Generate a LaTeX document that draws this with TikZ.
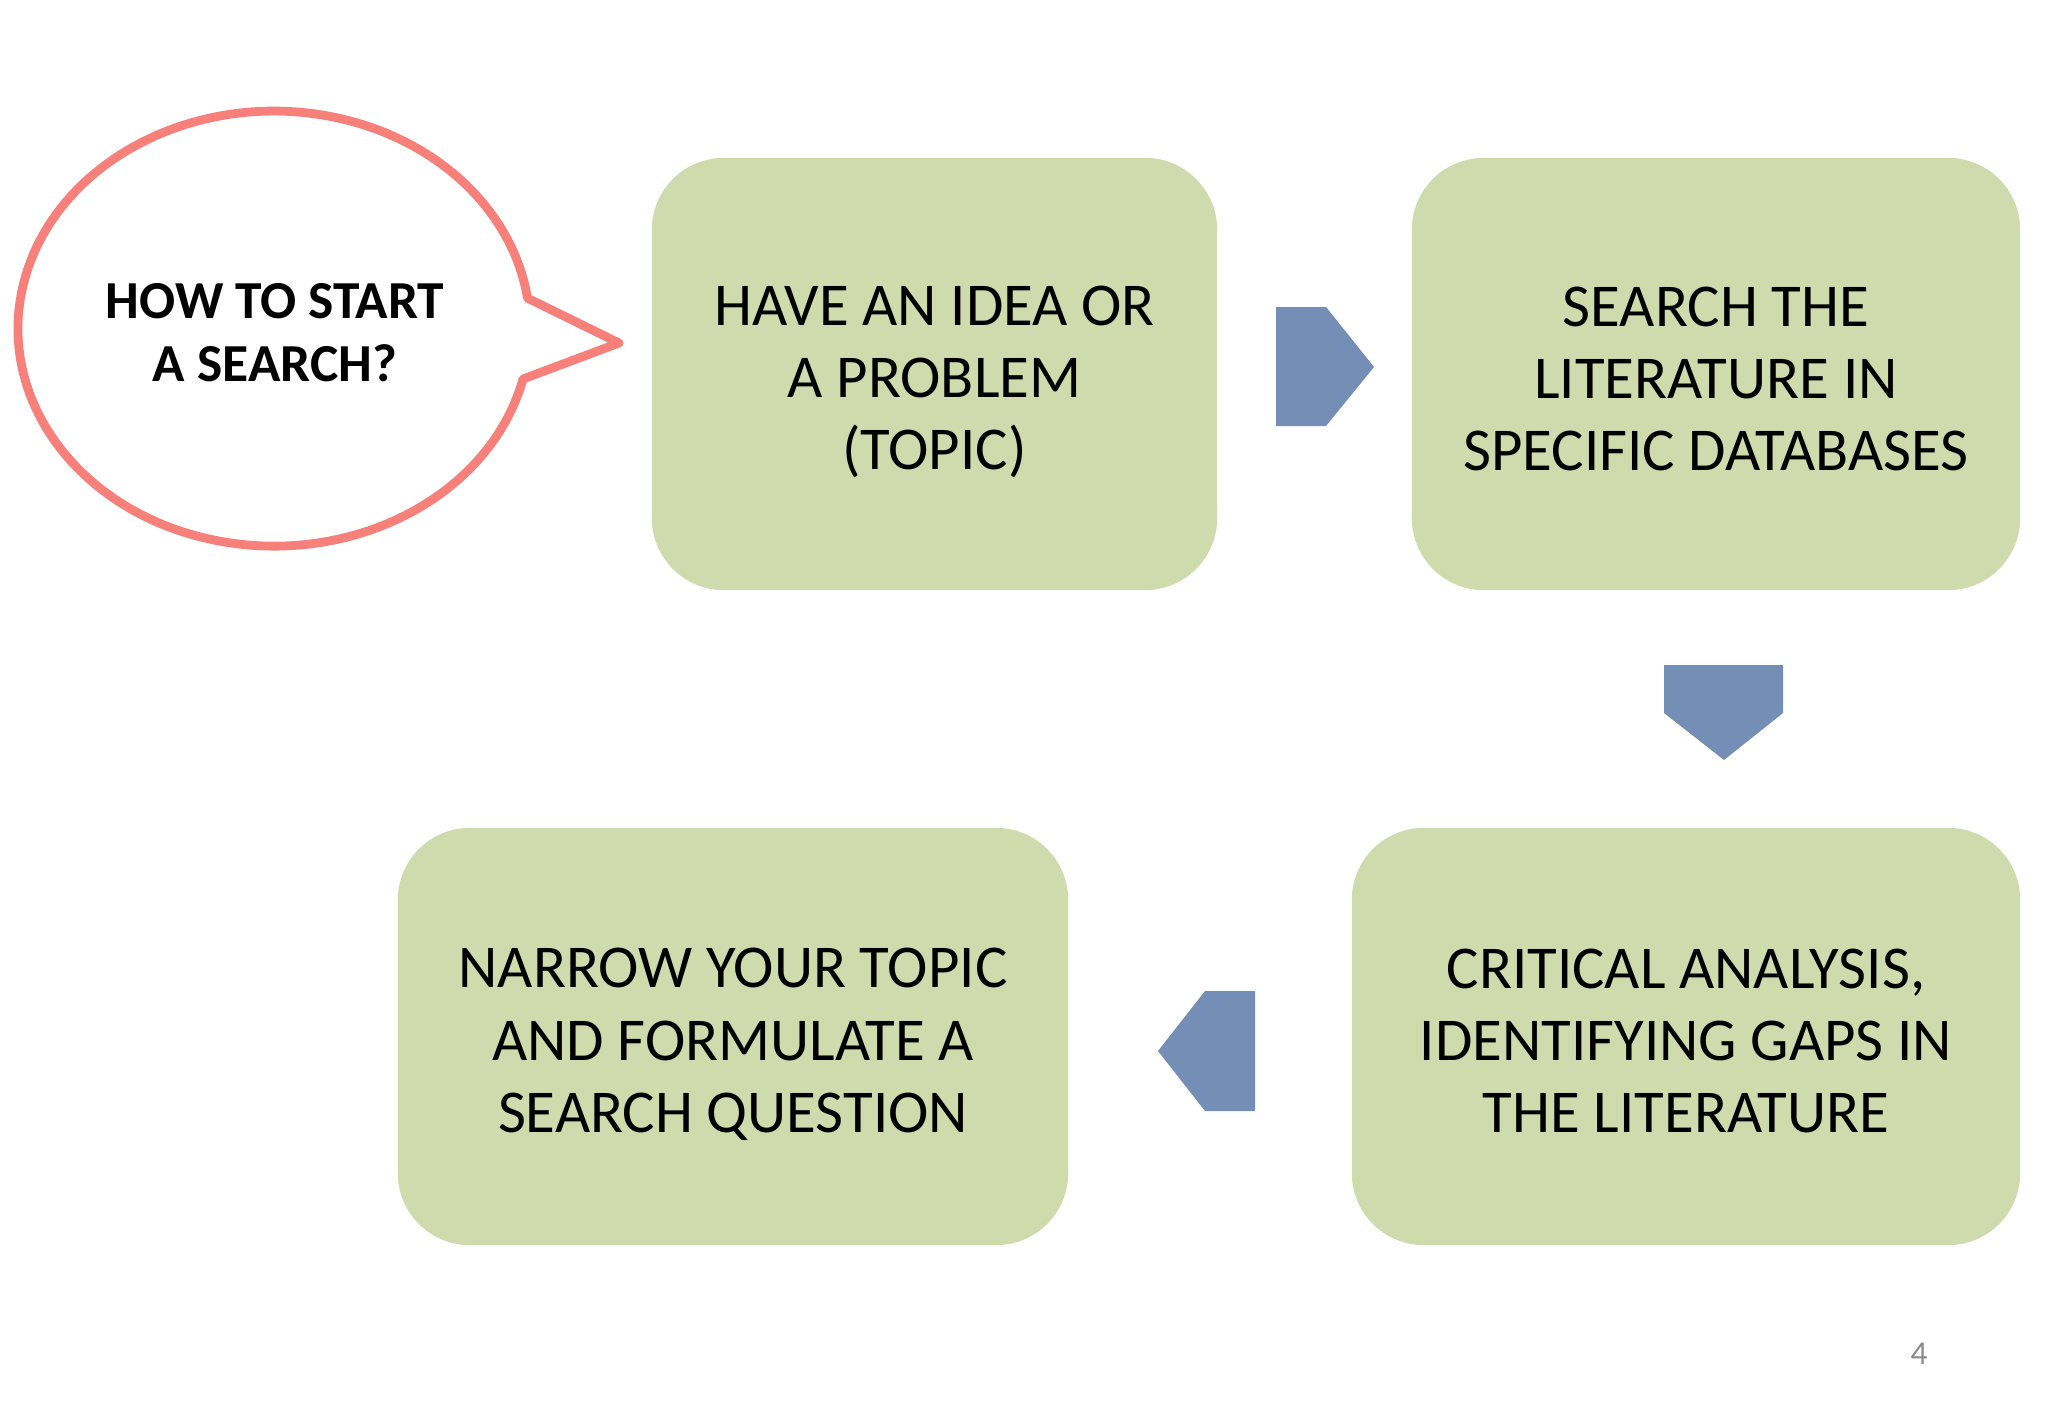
\documentclass[tikz,border=0pt]{standalone}
\usepackage{fontspec}
\setmainfont{Carlito}
\definecolor{boxgreen}{RGB}{207,219,172}
\definecolor{arrowblue}{RGB}{117,142,181}
\definecolor{bubblered}{RGB}{247,128,122}
\definecolor{pagegrey}{RGB}{140,140,140}
\tikzset{
  stepbox/.style={rectangle, rounded corners=0.72cm, fill=boxgreen, inner sep=0pt},
  steptext/.style={align=center, font=\fontsize{17.3}{20.6}\selectfont, inner sep=0pt},
  blockarrow/.style={fill=arrowblue},
  bubble/.style={draw=bubblered, line width=2.5pt, fill=white, line join=round},
}
\begin{document}
\begin{tikzpicture}[x=0.01cm,y=-0.01cm]
\fill[white] (0,0) rectangle (2048,1418);
\useasboundingbox (0,0) rectangle (2048,1418);
% speech bubble
\draw[bubble] (523,379) arc[start angle=13.4, end angle=351.94, x radius=256, y radius=217.5] -- (619,343) -- cycle;
\node[align=center, font=\bfseries\fontsize{15.2}{18}\selectfont] (question) at (275,333) {HOW TO START\\A SEARCH?};
% boxes
\node[stepbox, minimum width=5.65cm, minimum height=4.32cm] (idea) at (934.5,374) {};
\node[stepbox, minimum width=6.08cm, minimum height=4.32cm] (search) at (1716,374) {};
\node[stepbox, minimum width=6.68cm, minimum height=4.17cm] (critical) at (1686,1036.5) {};
\node[stepbox, minimum width=6.70cm, minimum height=4.17cm] (narrow) at (733,1036.5) {};
\node[steptext, yshift=-0.08cm] (ideatext) at (idea) {HAVE AN IDEA OR\\A PROBLEM\\(TOPIC)};
\node[steptext, yshift=-0.05cm] (searchtext) at (search) {SEARCH THE\\LITERATURE IN\\SPECIFIC DATABASES};
\node[steptext, yshift=-0.045cm] (criticaltext) at (critical) {CRITICAL ANALYSIS,\\IDENTIFYING GAPS IN\\THE LITERATURE};
\node[steptext, yshift=-0.08cm] (narrowtext) at (narrow) {NARROW YOUR TOPIC\\AND FORMULATE A\\SEARCH QUESTION};
% block arrows
\fill[blockarrow] (1276,307) -- (1326,307) -- (1374,367) -- (1326,426) -- (1276,426) -- cycle;
\fill[blockarrow] (1664,665) -- (1783,665) -- (1783,713) -- (1724,760) -- (1664,713) -- cycle;
\fill[blockarrow] (1255,991) -- (1255,1111) -- (1205,1111) -- (1158,1051) -- (1205,991) -- cycle;
% page number
\node[font=\fontsize{9.5}{11}\selectfont, text=pagegrey] (pagenum) at (1919,1354) {4};
\end{tikzpicture}
\end{document}
